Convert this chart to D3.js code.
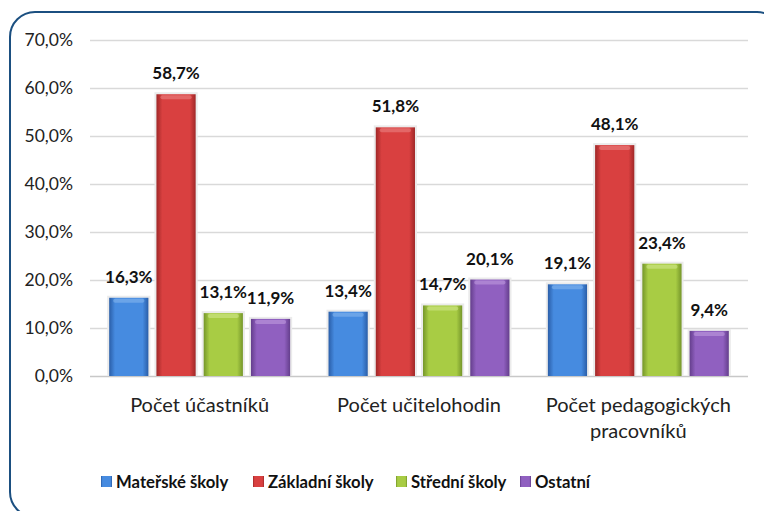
<!DOCTYPE html>
<html>
<head>
<meta charset="utf-8">
<script src="https://cdnjs.cloudflare.com/ajax/libs/d3/7.8.5/d3.min.js"></script>
<style>
  html, body { margin: 0; padding: 0; background: #fff; }
  svg { display: block; font-family: Lato, "Open Sans", sans-serif; }
</style>
</head>
<body>
<svg id="chart" width="764" height="511"></svg>
<script>
// chart data
var categories = ["Počet účastníků", "Počet učitelohodin", "Počet pedagogických pracovníků"];
var categoryLines = [["Počet účastníků"], ["Počet učitelohodin"], ["Počet pedagogických", "pracovníků"]];
var seriesNames = ["Mateřské školy", "Základní školy", "Střední školy", "Ostatní"];
var materske = [16.3, 13.4, 19.1];
var zakladni = [58.7, 51.8, 48.1];
var stredni = [13.1, 14.7, 23.4];
var ostatni = [11.9, 20.1, 9.4];
var yTicks = [0, 10, 20, 30, 40, 50, 60, 70];

var seriesValues = [materske, zakladni, stredni, ostatni];
var colors = [
  { mid: "#468be0", edge: "#2a5ea8", top: "#8fbdf0" },
  { mid: "#d94040", edge: "#a02828", top: "#ee8d8d" },
  { mid: "#a8cc44", edge: "#75962a", top: "#d8ec98" },
  { mid: "#9060c0", edge: "#643e8c", top: "#c7a6e4" }
];

var svg = d3.select("#chart");
var fmt = function (v) { return v.toFixed(1).replace(".", ",") + "%"; };

//outer frame
svg.append("rect")
  .attr("x", 10).attr("y", 12)
  .attr("width", 772).attr("height", 505)
  .attr("rx", 25).attr("ry", 25)
  .style("fill", "none")
  .style("stroke", "#1b4f80")
  .style("stroke-width", 2);

//scales
var y = d3.scaleLinear().domain([0, 70]).range([376, 40]);
var x0 = d3.scaleBand().domain(categories).range([90, 748])
  .paddingInner(0.175).paddingOuter(0.0875);
var x1 = d3.scaleBand().domain(seriesNames).range([0, x0.bandwidth()])
  .paddingInner(0.17);

//gradients
var defs = svg.append("defs");
colors.forEach(function (c, i) {
  var g = defs.append("linearGradient").attr("id", "grad" + i)
    .attr("x1", "0").attr("x2", "1").attr("y1", "0").attr("y2", "0");
  g.append("stop").attr("offset", "0").attr("stop-color", c.edge);
  g.append("stop").attr("offset", "0.15").attr("stop-color", c.mid);
  g.append("stop").attr("offset", "0.85").attr("stop-color", c.mid);
  g.append("stop").attr("offset", "1").attr("stop-color", c.edge);
});

//gridlines
svg.append("g").selectAll("line")
  .data(yTicks)
  .enter()
  .append("line")
  .attr("x1", 90).attr("x2", 748)
  .attr("y1", function (d) { return y(d) + 0.5; })
  .attr("y2", function (d) { return y(d) + 0.5; })
  .style("stroke", function (d) { return d === 0 ? "#c8c8c8" : "#d9d9d9"; })
  .style("stroke-width", 1.5);

//y axis labels
svg.append("g").selectAll("text")
  .data(yTicks)
  .enter()
  .append("text")
  .attr("x", 73)
  .attr("y", function (d) { return y(d) + 6; })
  .attr("text-anchor", "end")
  .style("font-size", "17.5px")
  .style("fill", "#222")
  .text(function (d) { return d.toFixed(1).replace(".", ",") + "%"; });

//bars
var rows = [];
categories.forEach(function (cat, ci) {
  seriesNames.forEach(function (s, si) {
    rows.push({ cat: cat, series: s, si: si, value: seriesValues[si][ci] });
  });
});

var bars = svg.append("g").selectAll("g.bar")
  .data(rows)
  .enter()
  .append("g")
  .attr("class", "bar")
  .attr("transform", function (d) { return "translate(" + (x0(d.cat) + x1(d.series)) + ",0)"; });

bars.append("rect")
  .attr("x", -2).attr("width", x1.bandwidth() + 4)
  .attr("y", function (d) { return y(d.value) - 2; })
  .attr("height", function (d) { return y(0) - y(d.value) + 2; })
  .style("fill", "#ebebeb");

bars.append("rect")
  .attr("x", 0).attr("width", x1.bandwidth())
  .attr("y", function (d) { return y(d.value); })
  .attr("height", function (d) { return y(0) - y(d.value); })
  .style("fill", function (d) { return "url(#grad" + d.si + ")"; });

bars.append("rect")
  .attr("x", 4).attr("width", x1.bandwidth() - 8)
  .attr("y", function (d) { return y(d.value) + 1; })
  .attr("height", 4)
  .attr("rx", 2)
  .style("fill", function (d) { return colors[d.si].top; })
  .style("opacity", 0.5);

//value labels
bars.append("text")
  .attr("x", x1.bandwidth() / 2)
  .attr("y", function (d) { return y(d.value) - 15; })
  .attr("text-anchor", "middle")
  .style("font-size", "17px")
  .style("font-weight", "bold")
  .style("fill", "#111")
  .text(function (d) { return fmt(d.value); });

//category labels
svg.append("g").selectAll("text")
  .data(categories)
  .enter()
  .append("text")
  .attr("x", function (d) { return x0(d) + x0.bandwidth() / 2; })
  .attr("y", 412)
  .attr("text-anchor", "middle")
  .style("font-size", "20px")
  .style("fill", "#222")
  .each(function (d, i) {
    var t = d3.select(this);
    categoryLines[i].forEach(function (line, li) {
      t.append("tspan")
        .attr("x", x0(d) + x0.bandwidth() / 2)
        .attr("dy", li === 0 ? 0 : 26)
        .text(line);
    });
  });

//legend
var legendX = [101, 253, 396, 520];
var legend = svg.append("g").selectAll("g")
  .data(seriesNames)
  .enter()
  .append("g")
  .attr("transform", function (d, i) { return "translate(" + legendX[i] + ",476)"; });

legend.append("rect")
  .attr("width", 11).attr("height", 11)
  .style("fill", function (d, i) { return "url(#grad" + i + ")"; });

legend.append("text")
  .attr("x", 15).attr("y", 12)
  .style("font-size", "16.7px")
  .style("font-weight", "bold")
  .style("fill", "#111")
  .text(function (d) { return d; });
</script>
</body>
</html>
